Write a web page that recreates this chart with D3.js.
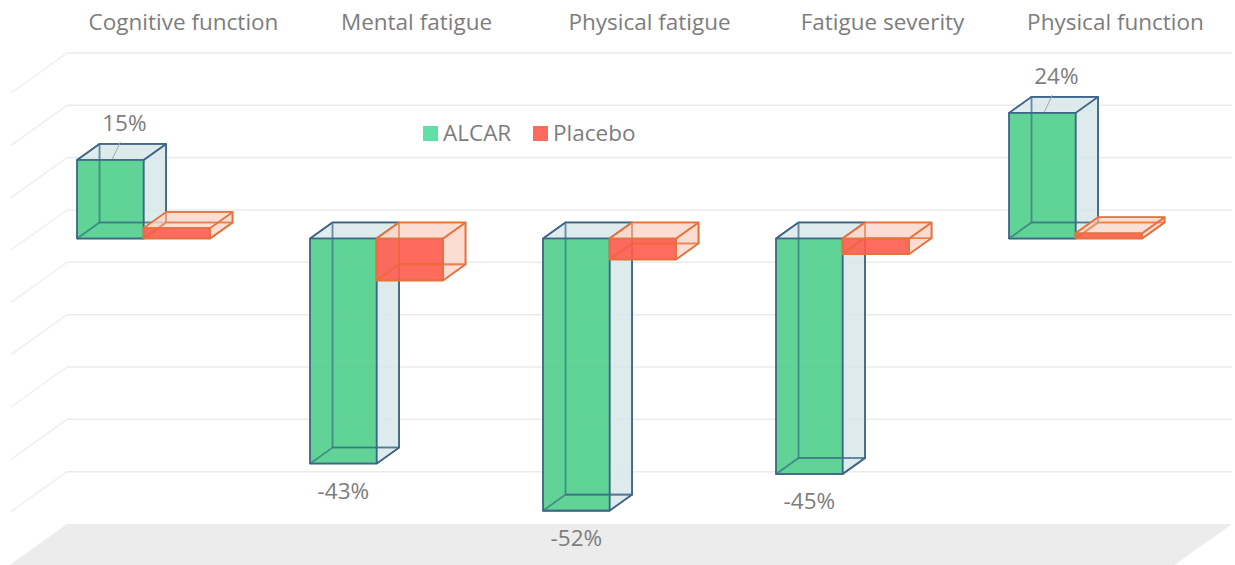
<!DOCTYPE html>
<html>
<head>
<meta charset="utf-8">
<script src="https://cdn.jsdelivr.net/npm/d3@7"></script>
<style>
html,body{margin:0;padding:0;background:#fff;}
svg{display:block;}
text{font-family:"Open Sans","Noto Sans",sans-serif;}
</style>
</head>
<body>
<svg id="chart" width="1235" height="565"></svg>
<script>
const categories = ["Cognitive function","Mental fatigue","Physical fatigue","Fatigue severity","Physical function"];
const seriesNames = ["ALCAR","Placebo"];
const alcarValues = [15,-43,-52,-45,24];
const placeboValues = [2,-8,-4,-3,1];
const gridTicks = [-60,-50,-40,-30,-20,-10,0,10,20,30];

const W = 1235, H = 565;
const svg = d3.select("#chart");

const y = d3.scaleLinear().domain([-60,30]).range([524,53]);
const x = d3.scaleBand().domain(categories).range([67,1232]);
const bw = x.bandwidth();
const barW = 66.5;
const inner = d3.scaleBand().domain(seriesNames).range([bw/2 - barW, bw/2 + barW]);

const K = 1.4;           // oblique x shift per depth unit
const zBack = 12.5, zFront = 28.5, zWall = 40;
function P(xw, v, z){ return [xw - K*z, y(v) + z]; }

const style = {
  ALCAR:   {front:"#48cc86", face:"#d7e7e8", edge:"#3f6689"},
  Placebo: {front:"#ff5447", face:"#fbd6c9", edge:"#e4743c"}
};
const FS = "22.5px";
const TXT = "#7d7d7d";

// back wall gridlines
const grid = svg.append("g");
gridTicks.filter(t => t > -60).forEach(t => {
  grid.append("line")
    .attr("x1", x.range()[0]).attr("x2", x.range()[1])
    .attr("y1", y(t)).attr("y2", y(t))
    .attr("stroke", "#ebebeb").attr("stroke-width", 1.5);
  const a = P(x.range()[0], t, 0), b = P(x.range()[0], t, zWall);
  grid.append("line")
    .attr("x1", a[0]).attr("y1", a[1]).attr("x2", b[0]).attr("y2", b[1])
    .attr("stroke", "#efefef").attr("stroke-width", 1.5);
});

// floor
const f = [P(x.range()[0],-60,0), P(x.range()[1],-60,0), P(x.range()[1],-60,zWall+6), P(x.range()[0],-60,zWall+6)];
svg.append("polygon").attr("points", f.map(p=>p.join(",")).join(" ")).attr("fill","#ececec");

// bars
const barsG = svg.append("g");
const data = [];
categories.forEach((c,i) => {
  data.push({cat:c, s:"ALCAR", v:alcarValues[i]});
  data.push({cat:c, s:"Placebo", v:placeboValues[i]});
});

function poly(g, pts, fill, fop, stroke, sop){
  g.append("polygon")
    .attr("points", pts.map(p=>p.join(",")).join(" "))
    .attr("fill", fill).attr("fill-opacity", fop)
    .attr("stroke", stroke).attr("stroke-opacity", sop == null ? 1 : sop)
    .attr("stroke-width", 1.6).attr("stroke-linejoin","round");
}

data.forEach(d => {
  const st = style[d.s];
  const x0 = x(d.cat) + inner(d.s), x1 = x0 + barW;
  const v0 = 0, v1 = d.v;
  const vt = Math.max(v0,v1), vb = Math.min(v0,v1);
  const g = barsG.append("g");
  poly(g, [P(x0,vt,zBack),P(x1,vt,zBack),P(x1,vb,zBack),P(x0,vb,zBack)], st.face, 0.5, st.edge);
  poly(g, [P(x0,vt,zBack),P(x0,vt,zFront),P(x0,vb,zFront),P(x0,vb,zBack)], st.face, 0.4, st.edge);
  poly(g, [P(x0,vb,zBack),P(x1,vb,zBack),P(x1,vb,zFront),P(x0,vb,zFront)], st.face, 0.4, st.edge);
  poly(g, [P(x1,vt,zBack),P(x1,vt,zFront),P(x1,vb,zFront),P(x1,vb,zBack)], st.face, 0.7, st.edge);
  poly(g, [P(x0,vt,zBack),P(x1,vt,zBack),P(x1,vt,zFront),P(x0,vt,zFront)], st.face, 0.65, st.edge);
  poly(g, [P(x0,vt,zFront),P(x1,vt,zFront),P(x1,vb,zFront),P(x0,vb,zFront)], st.front, 0.85, st.edge);
  // hidden back edges seen through the translucent front face
  poly(g, [P(x0,vt,zBack),P(x1,vt,zBack),P(x1,vb,zBack),P(x0,vb,zBack)], "none", 0, st.edge, 0.55);
  poly(g, [P(x0,vb,zBack),P(x1,vb,zBack),P(x1,vb,zFront),P(x0,vb,zFront)], "none", 0, st.edge, 0.55);
});

// data labels (ALCAR)
const labG = svg.append("g").attr("fill",TXT).attr("font-size",FS);
categories.forEach((c,i) => {
  const v = alcarValues[i];
  const x0 = x(c) + inner("ALCAR");
  const cx = x0 + barW/2;
  const lab = v + "%";
  const p = P(cx, v, zFront);
  if (v >= 0) {
    svg.append("line")
      .attr("x1", p[0]+2).attr("y1", p[1]-1)
      .attr("x2", p[0]+10).attr("y2", p[1]-18)
      .attr("stroke","#a6a6a6").attr("stroke-width",1);
    labG.append("text").attr("x", p[0]+14).attr("y", p[1]-29)
      .attr("text-anchor","middle").text(lab);
  } else {
    labG.append("text").attr("x", p[0]).attr("y", p[1]+35)
      .attr("text-anchor","middle").text(lab);
  }
});

// category titles
svg.append("g").selectAll("text").data(categories).join("text")
  .attr("x", d => x(d) + bw/2).attr("y", 30)
  .attr("text-anchor","middle").attr("font-size",FS).attr("fill",TXT)
  .text(d => d);

// legend
const legend = svg.append("g");
const legendItems = [
  {name:"ALCAR", color:"#5fe0a6", x:423},
  {name:"Placebo", color:"#ff6a5f", x:533}
];
legendItems.forEach(it => {
  legend.append("rect").attr("x", it.x).attr("y", 126).attr("width",15).attr("height",15).attr("fill", it.color);
  legend.append("text").attr("x", it.x+20).attr("y", 141).attr("font-size",FS).attr("fill",TXT).text(it.name);
});
</script>
</body>
</html>
